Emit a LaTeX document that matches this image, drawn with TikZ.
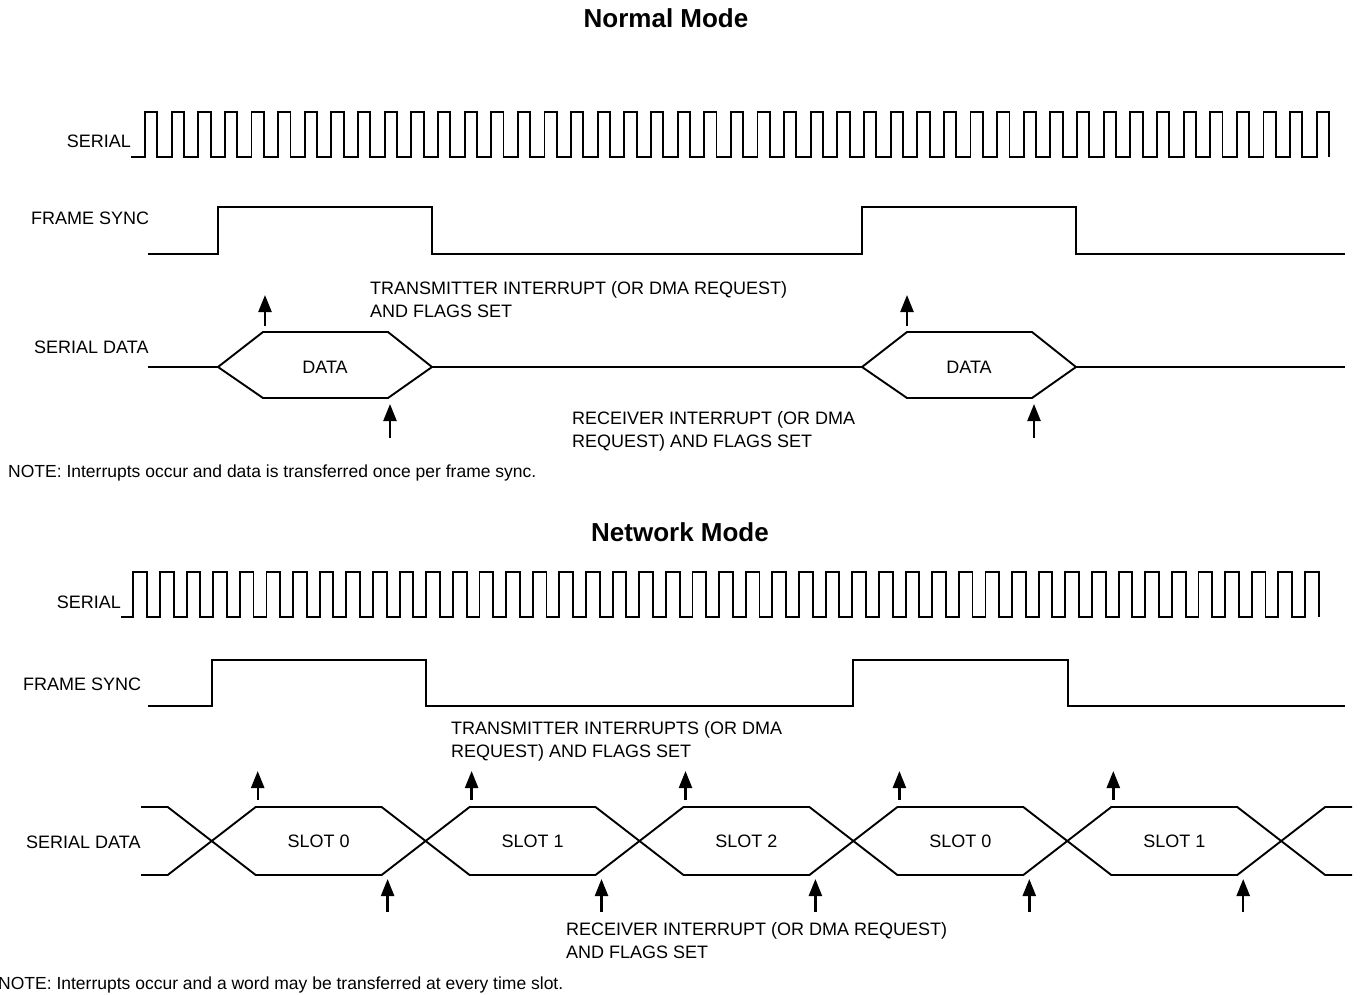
\documentclass[tikz,border=0pt]{standalone}
\usepackage{fontspec}
\setmainfont{Liberation Sans}
\usetikzlibrary{arrows.meta}
\begin{document}
\begin{tikzpicture}[x=1pt,y=-1pt,
  lbl/.style={font=\fontsize{18}{23}\selectfont,inner sep=0pt},
  note/.style={font=\fontsize{17.5}{20}\selectfont,inner sep=0pt,anchor=west},
  ttl/.style={font=\fontsize{26}{30}\selectfont\bfseries,inner sep=0pt},
  wave/.style={line width=1.9pt,line join=miter},
  flag/.style={-{Triangle[length=17pt,width=13pt]},line width=2.4pt}]
  \useasboundingbox (0,0) rectangle (1363,995);
  % normal mode
  \node[ttl] (nTitle) at (666,18) {Normal Mode};
  \node[lbl,anchor=east] (nClk) at (131,141) {SERIAL};
  \draw[wave] (131,157) foreach \k in {0,...,44} {
    -- ({145+26.63*\k},157) -- ({145+26.63*\k},112) -- ({157.3+26.63*\k},112) -- ({157.3+26.63*\k},157)};
  \node[lbl,anchor=west] (nFs) at (31,218) {FRAME SYNC};
  \draw[wave] (148,254) -| (218,207) -| (432,254) -| (862,207) -| (1076,254) -- (1345,254);
  \node[lbl,anchor=west] (nSd) at (34,347) {SERIAL DATA};
  \foreach \a/\b/\n in {218/432/d1,862/1076/d2} {
    \draw[wave] (\a,367) -- ({\a+45},332) -- ({\b-44},332) -- (\b,367) -- ({\b-44},398) -- ({\a+45},398) -- cycle;
    \node[lbl] (\n) at ({(\a+\b)/2},367) {DATA};
  }
  \draw[wave] (148,367) -- (218,367) (432,367) -- (862,367) (1076,367) -- (1345,367);
  \foreach \x/\n in {265/nt1,907/nt2} {
    \coordinate (\n) at (\x,326);
    \coordinate (\n tip) at (\x,295);
    \draw[flag] (\n) -- (\n tip);
  }
  \foreach \x/\n in {390/nr1,1034/nr2} {
    \coordinate (\n) at (\x,438);
    \coordinate (\n tip) at (\x,404);
    \draw[flag] (\n) -- (\n tip);
  }
  \node[lbl,anchor=north west,align=left] (nTx) at (370,281.5) {TRANSMITTER INTERRUPT (OR DMA REQUEST)\\AND FLAGS SET};
  \node[lbl,anchor=north west,align=left] (nRx) at (572,411.5) {RECEIVER INTERRUPT (OR DMA\\REQUEST) AND FLAGS SET};
  \node[note] (nNote) at (8,473) {NOTE: Interrupts occur and data is transferred once per frame sync.};
  % network mode
  \node[ttl] (wTitle) at (680,532) {Network Mode};
  \node[lbl,anchor=east] (wClk) at (121,602) {SERIAL};
  \draw[wave] (121,617) foreach \k in {0,...,44} {
    -- ({133.3+26.63*\k},617) -- ({133.3+26.63*\k},572) -- ({147+26.63*\k},572) -- ({147+26.63*\k},617)};
  \node[lbl,anchor=west] (wFs) at (23,684) {FRAME SYNC};
  \draw[wave] (148,706) -| (212,660) -| (426,706) -| (853,660) -| (1068,706) -- (1345,706);
  \node[lbl,anchor=west] (wSd) at (26,842) {SERIAL DATA};
  \foreach \a/\b/\t/\n in {211.7/425.6/SLOT 0/s1,425.6/639.5/SLOT 1/s2,639.5/853.4/SLOT 2/s3,853.4/1067.3/SLOT 0/s4,1067.3/1281.2/SLOT 1/s5} {
    \draw[wave] (\a,841) -- ({\a+44},807) -- ({\b-44},807) -- (\b,841) -- ({\b-44},875) -- ({\a+44},875) -- cycle;
    \node[lbl] (\n) at ({(\a+\b)/2},841) {\t};
    \coordinate (\n t) at ({\a+46},800);
    \coordinate (\n ttip) at ({\a+46},771);
    \draw[flag] (\n t) -- (\n ttip);
    \coordinate (\n r) at ({\b-38},912);
    \coordinate (\n rtip) at ({\b-38},879);
    \draw[flag] (\n r) -- (\n rtip);
  }
  \draw[wave] (141,807) -- (167.7,807) -- (211.7,841) -- (167.7,875) -- (141,875);
  \draw[wave] (1352,807) -- (1325.2,807) -- (1281.2,841) -- (1325.2,875) -- (1352,875);
  \node[lbl,anchor=north west,align=left] (wTx) at (451,721.5) {TRANSMITTER INTERRUPTS (OR DMA\\REQUEST) AND FLAGS SET};
  \node[lbl,anchor=north west,align=left] (wRx) at (566,922.5) {RECEIVER INTERRUPT (OR DMA REQUEST)\\AND FLAGS SET};
  \node[note] (wNote) at (-2,985) {NOTE: Interrupts occur and a word may be transferred at every time slot.};
\end{tikzpicture}
\end{document}
